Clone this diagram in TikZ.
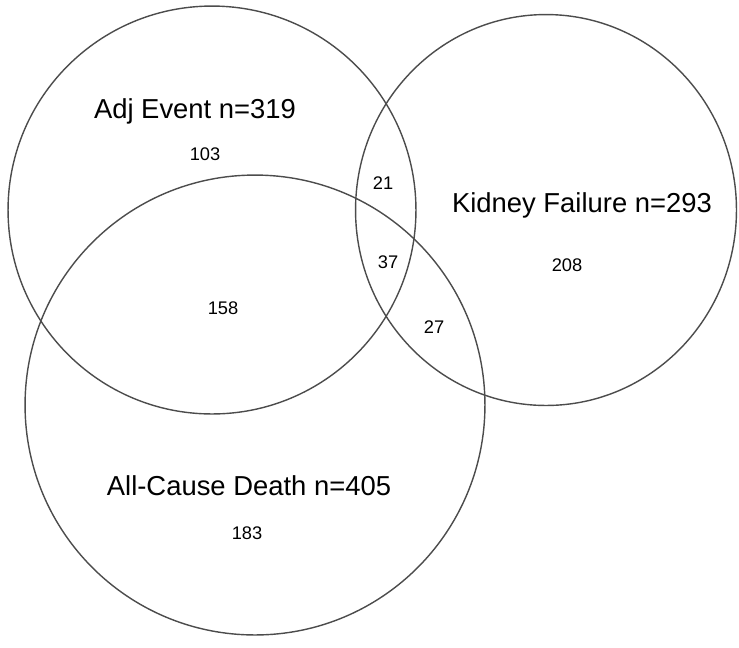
\documentclass[tikz,border=0pt]{standalone}
\usepackage{fontspec}
\setmainfont{Liberation Sans}
\usetikzlibrary{shapes,positioning}

\begin{document}
\begin{tikzpicture}[x=0.02cm,y=-0.02cm,
    setcircle/.style={circle,draw=black!70,line width=0.8pt,inner sep=0pt},
    setlabel/.style={font=\fontsize{15.6}{18}\selectfont},
    count/.style={font=\fontsize{10.4}{12}\selectfont}]
    \useasboundingbox (0,0) rectangle (739,647);
    \clip (0,0) rectangle (739,647);
    % the three sets
    \node[setcircle,minimum size=8.16cm] (adj) at (212,210) {};
    \node[setcircle,ellipse,minimum width=7.62cm,minimum height=7.82cm] (kidney) at (546,210) {};
    \node[setcircle,minimum size=9.2cm] (death) at (255,405) {};
    % set names
    \node[setlabel] (adjname) at (195,111) {Adj Event n=319};
    \node[setlabel] (kidneyname) at (582,205) {Kidney Failure n=293};
    \node[setlabel] (deathname) at (249,486) {All-Cause Death n=405};
    % region counts
    \node[count] (adjonly) at (205,154) {103};
    \node[count] (adjkid) at (383,183) {21};
    \node[count] (allthree) at (388,262) {37};
    \node[count] (kidonly) at (567,265) {208};
    \node[count] (adjdeath) at (223,308) {158};
    \node[count] (kiddeath) at (434,327) {27};
    \node[count] (deathonly) at (247,533) {183};
\end{tikzpicture}
\end{document}
